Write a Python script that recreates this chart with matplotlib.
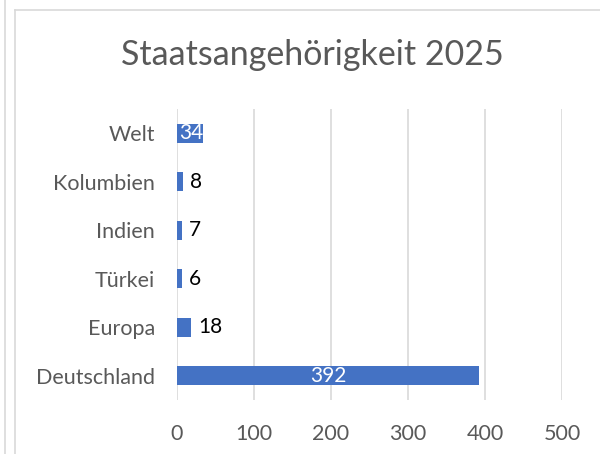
import matplotlib

matplotlib.use("Agg")
import matplotlib.pyplot as plt
from matplotlib.lines import Line2D

categories = ["Deutschland", "Europa", "Türkei", "Indien", "Kolumbien", "Welt"]
values = [392, 18, 6, 7, 8, 34]
xticks = [0, 100, 200, 300, 400, 500]

plt.rcParams["font.family"] = ["Lato", "DejaVu Sans"]

fig = plt.figure(figsize=(6, 4.54), dpi=100)
ax = fig.add_axes([0.295, 0.119, 0.6417, 0.641])

ypos = list(range(len(categories)))
ax.barh(ypos, values, height=0.39, color="#4472C4", zorder=3)

for y, v in zip(ypos, values):
    if v >= 100:
        ax.text(v / 2, y, str(v), color="white", fontsize=15,
                ha="center", va="center", zorder=4)
    elif v >= 30:
        ax.text(v, y, str(v), color="white", fontsize=15,
                ha="right", va="center", zorder=4)
    else:
        ax.annotate(str(v), (v, y), xytext=(5, 0), textcoords="offset points",
                    color="black", fontsize=15, ha="left", va="center", zorder=4)

ax.set_xlim(0, 500)
ax.set_ylim(-0.5, len(categories) - 0.5)
ax.set_xticks(xticks)
ax.set_yticks(ypos)
ax.set_yticklabels(categories)
ax.grid(axis="x", color="#d9d9d9", linewidth=1.2, zorder=0)
for s in ax.spines.values():
    s.set_visible(False)
ax.tick_params(axis="both", length=0, labelsize=15.5, colors="#595959")
ax.tick_params(axis="x", pad=17)
ax.tick_params(axis="y", pad=16)

fig.text(0.52, 0.878, "Staatsangehörigkeit 2025", ha="center", va="center",
         fontsize=24.5, color="#595959")

# frame lines around the chart
fig.add_artist(Line2D([4.5 / 600, 4.5 / 600], [0, 1], color="#d9d9d9", lw=1.2))
fig.add_artist(Line2D([14.5 / 600, 14.5 / 600], [0, 1 - 9.5 / 454], color="#d9d9d9", lw=1.2))
fig.add_artist(Line2D([14.5 / 600, 1], [1 - 9.5 / 454, 1 - 9.5 / 454], color="#d9d9d9", lw=1.2))

fig.savefig("out.png")
